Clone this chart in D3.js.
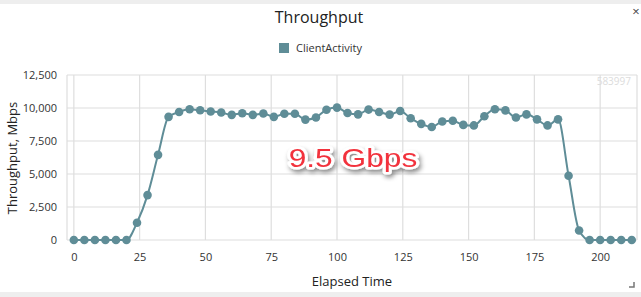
<!DOCTYPE html>
<html lang="en">
<head>
<meta charset="utf-8">
<title>Throughput</title>
<script src="https://cdn.jsdelivr.net/npm/d3@7"></script>
<style>
  body { margin: 0; background: #fff; font-family: 'Open Sans', 'Noto Sans', sans-serif; }
  .grid line { stroke: #dedede; stroke-width: 1.2; }
  .tick text { fill: #333; font-size: 11px; }
</style>
</head>
<body>
<div id="chart"></div>
<script>
// elapsed time samples and throughput (Mbps)
var times = [0,4,8,12,16,20,24,28,32,36,40,44,48,52,56,60,64,68,72,76,80,84,88,92,96,100,
             104,108,112,116,120,124,128,132,136,140,144,148,152,156,160,164,168,172,176,180,
             184,188,192,196,200,204,208,212];
var throughput = [0,0,0,0,0,0,1310,3400,6450,9330,9700,9900,9830,9740,9660,9480,9600,9480,9580,9330,
                  9560,9560,9120,9280,9870,10030,9620,9520,9880,9700,9500,9770,9220,8800,8560,8980,
                  9030,8720,8680,9380,9900,9820,9280,9520,9140,8680,9140,4870,720,0,0,0,0,0];
var xTicks = [0,25,50,75,100,125,150,175,200];
var yTicks = [0,2500,5000,7500,10000,12500];
var seriesName = "ClientActivity";

var W = 641, H = 297;
var m = {left: 67, right: 4, top: 75, bottom: 57};

var svg = d3.select("#chart").append("svg").attr("width", W).attr("height", H);

var defs = svg.append("defs");
var f = defs.append("filter").attr("id", "shadow").attr("x", "-20%").attr("y", "-40%").attr("width", "140%").attr("height", "180%");
f.append("feDropShadow").attr("dx", 1.5).attr("dy", 3).attr("stdDeviation", 2.2).attr("flood-color", "#000").attr("flood-opacity", 0.45);

// grey frame strips
svg.append("rect").attr("x", 0).attr("y", 0).attr("width", W).attr("height", 4).attr("fill", "#eeeeee");
svg.append("rect").attr("x", 0).attr("y", 292).attr("width", W).attr("height", 5).attr("fill", "#eeeeee");

var x = d3.scaleLinear().domain([-2.6, 214]).range([m.left, W - m.right]);
var y = d3.scaleLinear().domain([0, 12500]).range([H - m.bottom, m.top]);

// gridlines
var g = svg.append("g").attr("class", "grid");
g.selectAll(".v").data(xTicks).join("line")
  .attr("x1", d => x(d)).attr("x2", d => x(d)).attr("y1", m.top).attr("y2", H - m.bottom);
g.selectAll(".h").data(yTicks).join("line")
  .attr("x1", m.left).attr("x2", W - m.right).attr("y1", d => y(d)).attr("y2", d => y(d));
g.append("line").attr("x1", m.left).attr("x2", m.left).attr("y1", m.top).attr("y2", H - m.bottom);
g.append("line").attr("x1", W - m.right).attr("x2", W - m.right).attr("y1", m.top).attr("y2", H - m.bottom);

// axes
var xAxis = svg.append("g").attr("transform", "translate(0," + (H - m.bottom) + ")")
  .call(d3.axisBottom(x).tickValues(xTicks).tickSize(0).tickPadding(13).tickFormat(d3.format("d")));
xAxis.select(".domain").remove();
var yAxis = svg.append("g").attr("transform", "translate(" + m.left + ",0)")
  .call(d3.axisLeft(y).tickValues(yTicks).tickSize(0).tickPadding(10).tickFormat(d3.format(",")));
yAxis.select(".domain").remove();
svg.selectAll(".tick text").attr("font-family", "'Open Sans', sans-serif").attr("font-size", 11).attr("fill", "#333");

// watermark
svg.append("text").attr("x", 631).attr("y", 85).attr("text-anchor", "end")
  .attr("font-size", 10).attr("fill", "#dcdcdc").text("583997");

// series
var data = times.map((t, i) => ({t: t, v: throughput[i]}));
var color = "#5f8d97";
svg.append("path").datum(data)
  .attr("fill", "none").attr("stroke", color).attr("stroke-width", 2)
  .attr("d", d3.line().x(d => x(d.t)).y(d => y(d.v)).curve(d3.curveMonotoneX));
svg.selectAll(".pt").data(data).join("circle")
  .attr("cx", d => x(d.t)).attr("cy", d => y(d.v)).attr("r", 4.3).attr("fill", color);

// title & legend
svg.append("text").attr("x", 319).attr("y", 23).attr("text-anchor", "middle")
  .attr("font-size", 16).attr("fill", "#222").text("Throughput");
svg.append("text").attr("x", 636).attr("y", 16).attr("text-anchor", "middle")
  .attr("font-size", 13).attr("fill", "#444").text("×");
svg.append("rect").attr("x", 279).attr("y", 43).attr("width", 10).attr("height", 10).attr("fill", color);
svg.append("text").attr("x", 296).attr("y", 52).attr("font-size", 11).attr("fill", "#333").text(seriesName);

// axis titles
svg.append("text").attr("x", 352).attr("y", 286).attr("text-anchor", "middle")
  .attr("font-size", 13).attr("fill", "#222").text("Elapsed Time");
svg.append("text").attr("transform", "translate(17,158) rotate(-90)").attr("text-anchor", "middle")
  .attr("font-size", 13).attr("fill", "#222").text("Throughput, Mbps");

// resize grip
svg.append("path").attr("d", "M629,287 H634 V282").attr("fill", "none").attr("stroke", "#777").attr("stroke-width", 1.5);

// annotation
svg.append("text").attr("transform", "translate(353,167) scale(1.22,1)").attr("text-anchor", "middle")
  .attr("font-family", "'Liberation Sans', Arial, sans-serif").attr("font-size", 26)
  .attr("fill", "#f2323c").attr("stroke", "#fff").attr("stroke-width", 5).attr("stroke-linejoin", "round")
  .attr("paint-order", "stroke").attr("filter", "url(#shadow)").text("9.5 Gbps");
</script>
</body>
</html>
